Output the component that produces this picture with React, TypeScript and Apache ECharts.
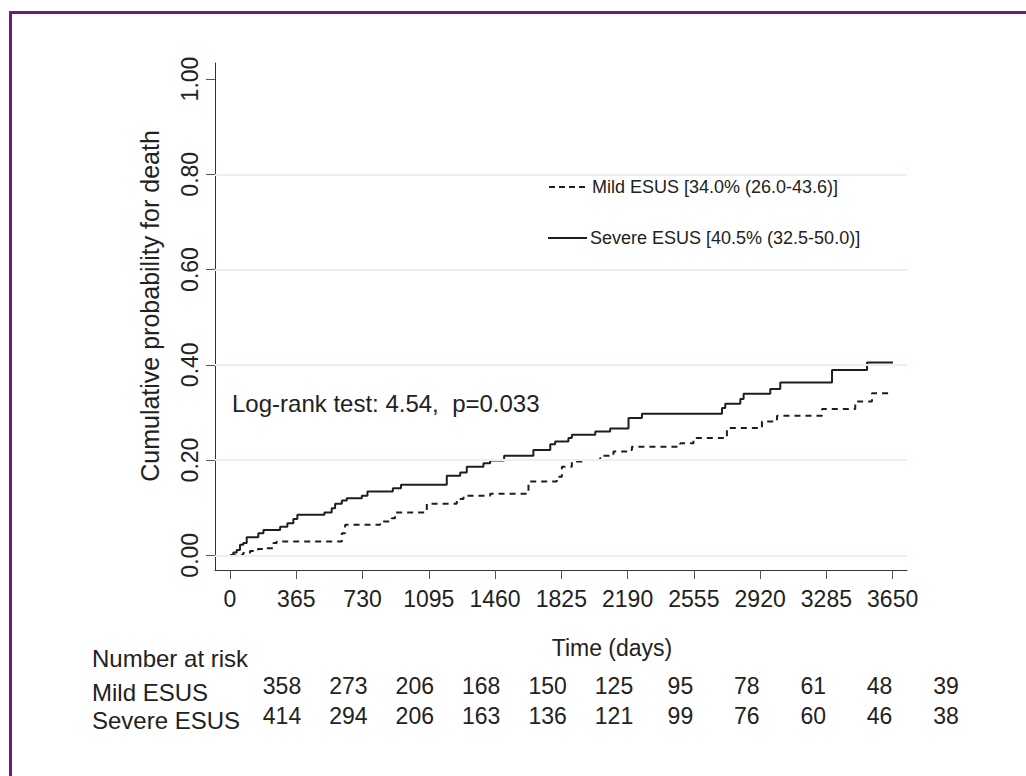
import React, { useEffect, useRef } from "react";
import * as echarts from "echarts";

const FONT = "'Liberation Sans', Arial, Helvetica, sans-serif";

const timeTicks = [0, 365, 730, 1095, 1460, 1825, 2190, 2555, 2920, 3285, 3650];
const probTicks = [0, 0.2, 0.4, 0.6, 0.8, 1.0];
const gridValues = [0, 0.2, 0.4, 0.6, 0.8];

const mildName = "Mild ESUS [34.0% (26.0-43.6)]";
const severeName = "Severe ESUS [40.5% (32.5-50.0)]";

const mildTimes = [0, 72, 110, 154, 193, 239, 257, 616, 634, 827, 891, 909, 1084, 1249, 1286, 1433, 1644, 1800, 1828, 1883, 1947, 2039, 2057, 2112, 2204, 2214, 2480, 2553, 2737, 2930, 3013, 3261, 3444, 3536, 3647];
const mildProb = [0, 0.005, 0.009, 0.013, 0.015, 0.026, 0.029, 0.046, 0.064, 0.071, 0.078, 0.09, 0.108, 0.118, 0.125, 0.129, 0.155, 0.165, 0.186, 0.197, 0.2, 0.204, 0.209, 0.218, 0.221, 0.228, 0.235, 0.246, 0.267, 0.281, 0.293, 0.307, 0.323, 0.34, 0.34];

const severeTimes = [0, 18, 37, 55, 73, 92, 156, 184, 276, 316, 349, 371, 520, 560, 579, 616, 643, 726, 757, 897, 942, 1194, 1268, 1304, 1396, 1433, 1510, 1671, 1764, 1791, 1864, 1883, 2012, 2094, 2195, 2269, 2710, 2728, 2811, 2829, 2976, 3031, 3316, 3509, 3652];
const severeProb = [0, 0.006, 0.011, 0.022, 0.026, 0.038, 0.046, 0.053, 0.06, 0.067, 0.076, 0.085, 0.09, 0.099, 0.108, 0.115, 0.12, 0.125, 0.134, 0.141, 0.148, 0.167, 0.174, 0.186, 0.193, 0.199, 0.209, 0.221, 0.233, 0.239, 0.246, 0.253, 0.26, 0.266, 0.288, 0.297, 0.309, 0.318, 0.328, 0.339, 0.349, 0.363, 0.389, 0.405, 0.405];

const riskRowLabels = ["Mild ESUS", "Severe ESUS"];
const atRiskMild = [358, 273, 206, 168, 150, 125, 95, 78, 61, 48, 39];
const atRiskSevere = [414, 294, 206, 163, 136, 121, 99, 76, 60, 46, 38];

const logRankText = "Log-rank test: 4.54,  p=0.033";
const yTitle = "Cumulative probability for death";
const xTitle = "Time (days)";
const riskTitle = "Number at risk";

export default function App() {
  const ref = useRef<HTMLDivElement>(null);

  useEffect(() => {
    if (!ref.current) return;
    const chart = echarts.init(ref.current, null, { renderer: "svg" });
    const textColor = "#222";
    const lineColor = "#1e1e1e";

    const txt = (text: string, x: number, y: number, size: number, align = "left", rotation = 0) => ({
      type: "text",
      x,
      y,
      rotation,
      silent: true,
      style: {
        text,
        fontSize: size,
        fontFamily: FONT,
        fill: textColor,
        align,
        verticalAlign: "middle",
      },
    });

    const graphics: any[] = [
      {
        type: "rect",
        shape: { x: 10.5, y: 12.5, width: 1040, height: 800 },
        style: { fill: "none", stroke: "#6b1f71", lineWidth: 3 },
        silent: true,
      },
      txt(yTitle, 150, 306, 25, "center", Math.PI / 2),
      txt(xTitle, 612, 648, 23, "center"),
      txt(logRankText, 232, 403, 24, "left"),
      txt(riskTitle, 92, 658, 24, "left"),
      txt(riskRowLabels[0], 92, 692, 24, "left"),
      txt(riskRowLabels[1], 92, 720, 24, "left"),
      // legend
      {
        type: "line",
        silent: true,
        shape: { x1: 549, y1: 187, x2: 586, y2: 187 },
        style: { stroke: lineColor, lineWidth: 2, lineDash: [6, 4] },
      },
      txt(mildName, 592, 187, 18, "left"),
      {
        type: "line",
        silent: true,
        shape: { x1: 548, y1: 238, x2: 587, y2: 238 },
        style: { stroke: lineColor, lineWidth: 2 },
      },
      txt(severeName, 590, 238, 18, "left"),
    ];
    atRiskMild.forEach((n, i) => graphics.push(txt(String(n), 282 + 66.4 * i, 686, 23, "center")));
    atRiskSevere.forEach((n, i) => graphics.push(txt(String(n), 282 + 66.4 * i, 716, 23, "center")));

    chart.setOption({
      animation: false,
      backgroundColor: "#ffffff",
      grid: { left: 215, top: 63, right: 119, bottom: 206, containLabel: false },
      xAxis: {
        type: "value",
        min: -82.7,
        max: 3729,
        axisLine: { show: true, onZero: false, lineStyle: { color: "#333", width: 1 } },
        axisTick: { show: true, customValues: timeTicks, length: 9, lineStyle: { color: "#555" } },
        axisLabel: {
          customValues: timeTicks,
          fontSize: 23,
          color: textColor,
          margin: 17,
          fontFamily: FONT,
          formatter: (v: number) => String(Math.round(v)),
        },
        splitLine: { show: false },
      },
      yAxis: {
        type: "value",
        min: -0.0309,
        max: 1.0336,
        axisLine: { show: true, onZero: false, lineStyle: { color: "#333", width: 1 } },
        axisTick: { show: true, customValues: probTicks, length: 9, lineStyle: { color: "#555" } },
        axisLabel: {
          customValues: probTicks,
          fontSize: 23,
          color: textColor,
          margin: 14,
          rotate: 90,
          fontFamily: FONT,
          formatter: (v: number) => v.toFixed(2),
        },
        splitLine: { show: false },
      },
      series: [
        {
          type: "line",
          data: [],
          z: 1,
          silent: true,
          markLine: {
            silent: true,
            symbol: "none",
            label: { show: false },
            lineStyle: { type: "solid", color: "#e8f0f4", width: 2 },
            data: gridValues.map((v) => ({ yAxis: v })),
          },
        },
        {
          name: mildName,
          type: "line",
          step: "end",
          symbol: "none",
          z: 3,
          data: mildTimes.map((t, i) => [t, mildProb[i]]),
          lineStyle: { color: lineColor, width: 2, type: [6, 5] },
          itemStyle: { color: lineColor },
        },
        {
          name: severeName,
          type: "line",
          step: "end",
          symbol: "none",
          z: 3,
          data: severeTimes.map((t, i) => [t, severeProb[i]]),
          lineStyle: { color: lineColor, width: 2, type: "solid" },
          itemStyle: { color: lineColor },
        },
      ],
      graphic: graphics,
    });

    return () => chart.dispose();
  }, []);

  return (
    <div
      ref={ref}
      style={{ position: "absolute", left: 0, top: 0, width: 1026, height: 776, background: "#fff" }}
    />
  );
}
